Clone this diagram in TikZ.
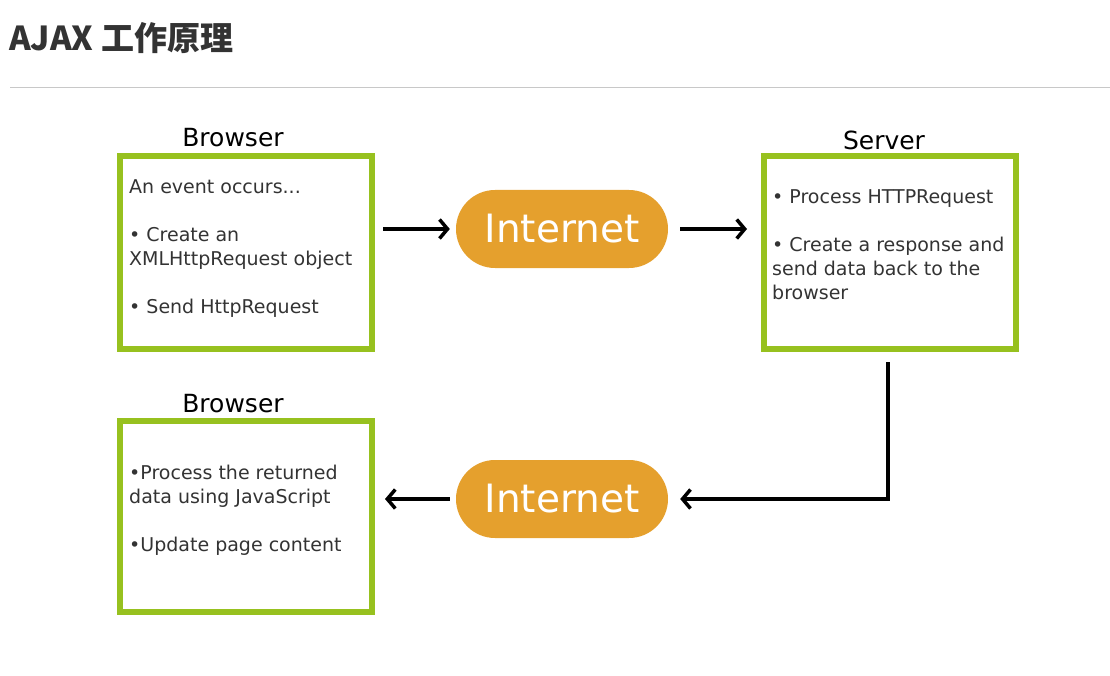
\documentclass[tikz,border=0pt]{standalone}
\usepackage{fontspec}
\setmainfont{DejaVu Sans}
\newfontfamily\cjk{Noto Sans CJK SC}
\usetikzlibrary{positioning, arrows.meta}

\definecolor{boxgreen}{HTML}{97C11F}
\definecolor{netorange}{HTML}{E5A02D}
\definecolor{titlegray}{HTML}{333333}
\definecolor{rulegray}{HTML}{C8C8C8}
\definecolor{textgray}{HTML}{333333}

\begin{document}
\begin{tikzpicture}[x=1pt, y=-1pt,
    box/.style={draw=boxgreen, line width=6pt, minimum width=252pt, inner sep=0pt},
    net/.style={fill=netorange, rounded corners=39pt, minimum width=212pt,
      minimum height=78pt, text=white, font=\fontsize{39}{41}\selectfont},
    boxlabel/.style={text=black, font=\fontsize{25}{27}\selectfont},
    boxtext/.style={anchor=north west, inner sep=0pt, align=left,
      text=textgray, font=\fontsize{19}{24}\selectfont},
    arr/.style={line width=3.5pt, -{Straight Barb[length=8pt, width=19pt]}}]

  \useasboundingbox (0,0) rectangle (1110,676);

  % heading
  \node [anchor=west, inner sep=0pt, text=titlegray,
    font=\cjk\bfseries\fontsize{33}{35}\selectfont] (title) at (9,38) {AJAX 工作原理};
  \coordinate (ruleL) at (10,88);
  \coordinate (ruleR) at (1110,88);
  \draw [rulegray, line width=1pt] (ruleL) -- (ruleR);

  % boxes
  \node [box, minimum height=193pt] (browser) at (246,252.5) {};
  \node [box, minimum height=193pt] (server) at (890,252.5) {};
  \node [box, minimum height=191pt] (browserB) at (246,516.5) {};

  \node [boxlabel] (browserL) at (233,138) {Browser};
  \node [boxlabel] (serverL) at (884,140) {Server};
  \node [boxlabel] (browserBL) at (233,404) {Browser};

  \node [boxtext] (browserT) at (129,179) {An event occurs...\\[24pt]
    • Create an\\XMLHttpRequest object\\[24pt]• Send HttpRequest};
  \node [boxtext] (serverT) at (772,189) {• Process HTTPRequest\\[24pt]
    • Create a response and\\send data back to the\\browser};
  \node [boxtext] (browserBT) at (129,465) {•Process the returned\\data using JavaScript\\[24pt]
    •Update page content};

  % internet
  \node [net] (netA) at (562,229) {Internet};
  \node [net] (netB) at (562,499) {Internet};

  % arrows
  \coordinate (turn) at ([xshift=-2pt]server.south |- netB.east);
  \draw [arr] ([xshift=8pt]browser.east |- netA.west) -- ([xshift=-6pt]netA.west);
  \draw [arr] ([xshift=12pt]netA.east) -- ([xshift=-14pt]server.west |- netA.east);
  \draw [arr] ([shift={(-2,10)}]server.south) -- (turn) -- ([xshift=12pt]netB.east);
  \draw [arr] ([xshift=-6pt]netB.west) -- ([xshift=10pt]browserB.east |- netB.west);
\end{tikzpicture}
\end{document}
